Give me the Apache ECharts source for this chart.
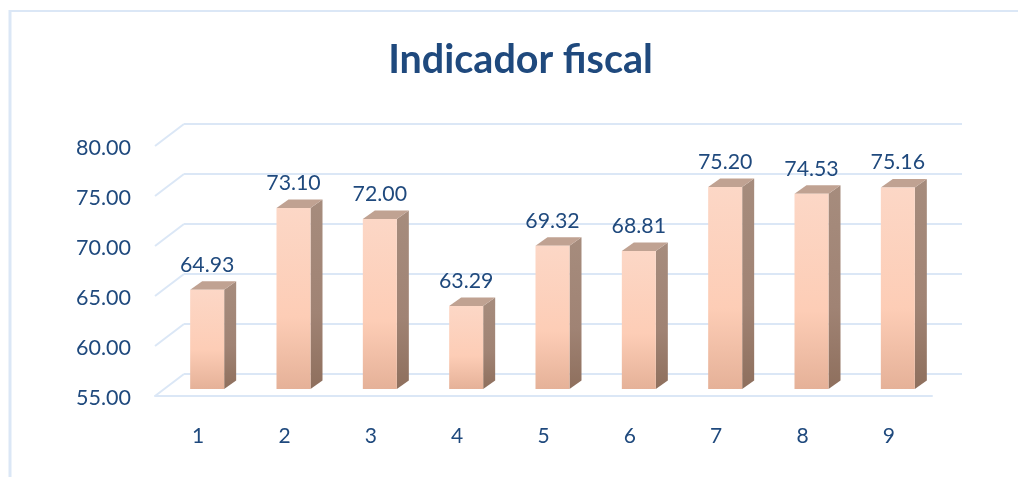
<!DOCTYPE html>
<html>
<head>
<meta charset="utf-8">
<title>Indicador fiscal</title>
<style>
    html, body { margin: 0; padding: 0; background: #fff; }
    #chart { width: 1018px; height: 477px; }
</style>
<script src="https://cdn.jsdelivr.net/npm/echarts@6/dist/echarts.min.js"></script>
</head>
<body>
<div id="chart"></div>
<script>
var categories = ['1', '2', '3', '4', '5', '6', '7', '8', '9'];
var values = [64.93, 73.10, 72.00, 63.29, 69.32, 68.81, 75.20, 74.53, 75.16];
var tickValues = [55, 60, 65, 70, 75, 80];

var textColor = '#1f497d';
var gridColor = '#dbe7f6';
var fontName = 'Lato';

//back wall sits this far from the front plane
var wallX = 29;
var wallY = -22;
//bars stand part way into the floor
var barShiftX = 9;
var barShiftY = -7;
var barWidth = 34;
var depthX = 12;
var depthY = -8.5;

function renderWallLink(params, api) {
    var p = api.coord([0, api.value(0)]);
    var x = params.coordSys.x;
    return {
        type: 'line',
        shape: { x1: x, y1: p[1], x2: x + wallX, y2: p[1] + wallY },
        style: { stroke: gridColor, lineWidth: 2 }
    };
}

function renderBar(params, api) {
    var top = api.coord([api.value(0), api.value(1)]);
    var base = api.coord([api.value(0), 55]);
    var l = top[0] + barShiftX - barWidth / 2;
    var r = l + barWidth;
    var t = top[1] + barShiftY;
    var b = base[1] + barShiftY;
    return {
        type: 'group',
        children: [
            {
                type: 'polygon',
                shape: { points: [[r, t], [r + depthX, t + depthY], [r + depthX, b + depthY], [r, b]] },
                style: {
                    fill: new echarts.graphic.LinearGradient(0, 0, 0, 1, [
                        { offset: 0, color: '#a68c7d' },
                        { offset: 0.6, color: '#a08374' },
                        { offset: 1, color: '#8e6f5d' }
                    ])
                }
            },
            {
                type: 'polygon',
                shape: { points: [[l, t], [l + depthX, t + depthY], [r + depthX, t + depthY], [r, t]] },
                style: { fill: '#c0a292' }
            },
            {
                type: 'rect',
                shape: { x: l, y: t, width: barWidth, height: b - t },
                style: {
                    fill: new echarts.graphic.LinearGradient(0, 0, 0, 1, [
                        { offset: 0, color: '#fcd7c6' },
                        { offset: 0.6, color: '#fdcdb6' },
                        { offset: 1, color: '#e5b198' }
                    ])
                }
            },
            {
                type: 'text',
                style: {
                    x: top[0] + barShiftX,
                    y: t - 25,
                    text: api.value(1).toFixed(2),
                    fill: textColor,
                    font: '21.3px ' + fontName,
                    textAlign: 'center',
                    textVerticalAlign: 'middle'
                }
            }
        ]
    };
}

var myChart = echarts.init(document.getElementById('chart'), null, { renderer: 'canvas' });
var option = {
    animation: false,
    backgroundColor: '#ffffff',
    title: {
        text: 'Indicador fiscal',
        left: 515.5,
        top: 35,
        textAlign: 'center',
        textStyle: { color: textColor, fontFamily: fontName, fontSize: 39.5, fontWeight: 'bold' }
    },
    graphic: [
        { type: 'line', shape: { x1: 10, y1: 11, x2: 1018, y2: 11 }, style: { stroke: gridColor, lineWidth: 2 } },
        { type: 'line', shape: { x1: 10, y1: 10, x2: 10, y2: 477 }, style: { stroke: gridColor, lineWidth: 3 } }
    ],
    grid: [
        { left: 155, width: 777, top: 146, height: 250 },
        { left: 184, width: 778, top: 124, height: 250 }
    ],
    xAxis: [
        {
            type: 'category',
            gridIndex: 0,
            data: categories,
            axisLine: { lineStyle: { color: gridColor, width: 2 } },
            axisTick: { show: false },
            axisLabel: { color: textColor, fontFamily: fontName, fontSize: 21, margin: 30 }
        },
        {
            type: 'category',
            gridIndex: 1,
            data: categories,
            axisLine: { show: false },
            axisTick: { show: false },
            axisLabel: { show: false }
        }
    ],
    yAxis: [
        {
            type: 'value',
            gridIndex: 0,
            min: 55,
            max: 80,
            interval: 5,
            axisLine: { show: false },
            axisTick: { show: false },
            splitLine: { show: false },
            axisLabel: {
                margin: 24,
                formatter: function (v) { return '{v|' + v.toFixed(2) + '}'; },
                rich: {
                    v: {
                        color: textColor,
                        fontFamily: fontName,
                        fontSize: 21.5,
                        padding: [4, 0, 0, 0]
                    }
                }
            }
        },
        {
            type: 'value',
            gridIndex: 1,
            min: 55,
            max: 80,
            interval: 5,
            axisLine: { show: false },
            axisTick: { show: false },
            axisLabel: { show: false },
            splitLine: { show: true, lineStyle: { color: gridColor, width: 2 } }
        }
    ],
    series: [
        {
            type: 'custom',
            xAxisIndex: 0,
            yAxisIndex: 0,
            silent: true,
            renderItem: renderWallLink,
            encode: { y: 0 },
            data: tickValues.map(function (v) { return [v]; }),
            z: 1
        },
        {
            type: 'custom',
            xAxisIndex: 0,
            yAxisIndex: 0,
            renderItem: renderBar,
            encode: { x: 0, y: 1 },
            data: values.map(function (v, i) { return [i, v]; }),
            z: 5
        }
    ]
};
myChart.setOption(option);
</script>
</body>
</html>
